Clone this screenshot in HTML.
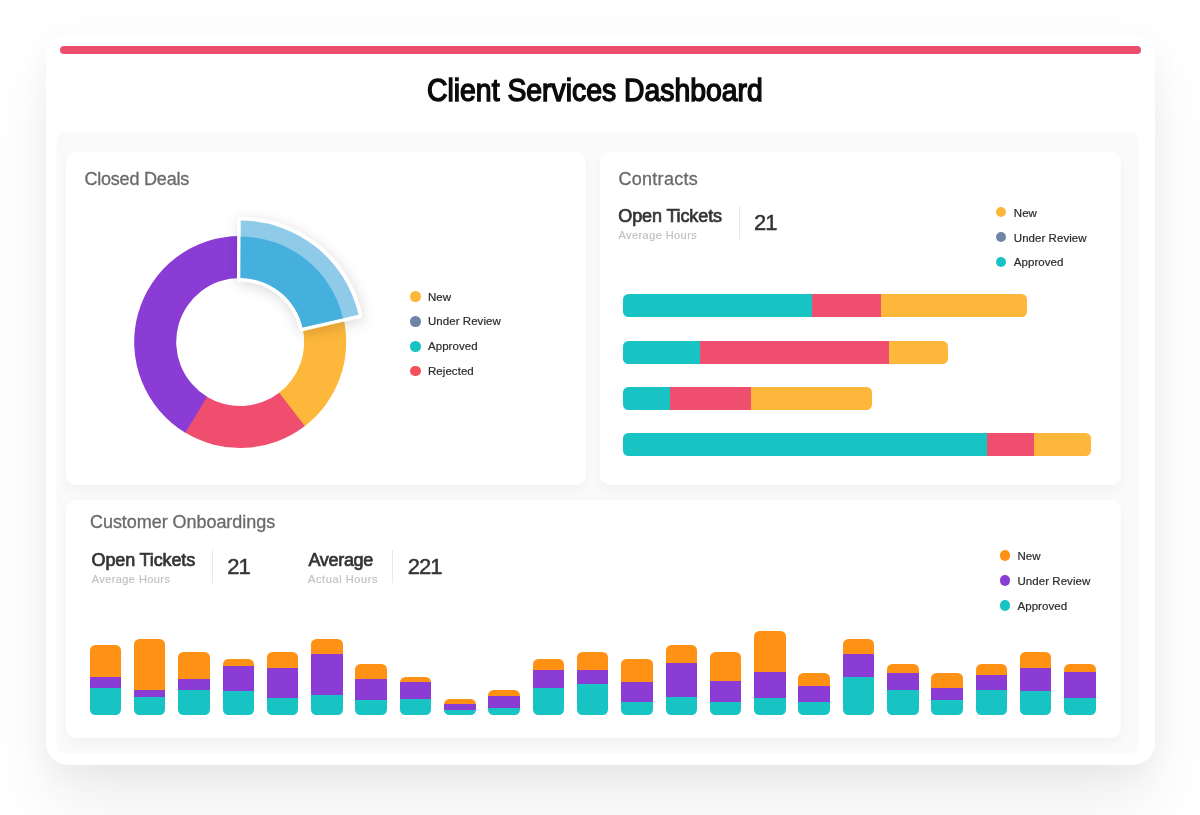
<!DOCTYPE html>
<html lang="en">
<head>
<meta charset="utf-8">
<title>Client Services Dashboard</title>
<style>
*{box-sizing:border-box;margin:0;padding:0}
html,body{width:1200px;height:815px;overflow:hidden;background:#fefefe}
body{position:relative;font-family:"Liberation Sans",Arial,sans-serif;color:#333}
.abs,.card,.hb,.vb,.dot,.lg,.t{position:absolute}
.outer{left:46px;top:34px;width:1108.5px;height:731px;background:#fff;border-radius:22px;
  box-shadow:0 40px 60px -6px rgba(0,0,0,.065),0 8px 30px rgba(0,0,0,.04)}
.topbar{left:59.7px;top:46px;width:1081.3px;height:8px;border-radius:4px;background:#EB4D6D}
.panel{left:57px;top:132.5px;width:1081px;height:620px;background:#fafafa;border-radius:8px;box-shadow:0 0 4px #fafafa}
.card{background:#fff;border-radius:10px;box-shadow:0 5px 12px rgba(0,0,0,.035)}
.t{white-space:nowrap;line-height:1}
h1.t{font-size:30.6px;font-weight:400;color:#0b0b0b;-webkit-text-stroke:1.4px #0b0b0b;transform-origin:0 0;transform:scaleX(.927)}
.h2{font-size:18px;color:#6a6a6a;-webkit-text-stroke:.3px #6a6a6a}
.k{font-size:18px;color:#343434;-webkit-text-stroke:.7px #343434}
.s{font-size:11px;color:#c0c0c0;letter-spacing:.42px;-webkit-text-stroke:.15px #c0c0c0}
.n{font-size:22px;color:#343434;-webkit-text-stroke:.45px #343434;letter-spacing:-1px}
.dv{position:absolute;width:1px;background:#e9e9e9}
.hb{display:flex;border-radius:5.5px;overflow:hidden}
.hb i{display:block;height:100%;flex:none}
.vb{width:31.6px;border-radius:5.5px;overflow:hidden}
.vb i{display:block;width:100%}
.dot{width:10.6px;height:10.6px;border-radius:50%}
.lg{font-size:11.5px;line-height:14px;color:#2b2b2b;white-space:nowrap;letter-spacing:.05px;-webkit-text-stroke:.2px #2b2b2b}
svg{position:absolute;left:0;top:0;overflow:visible}
</style>
</head>
<body>
<div class="abs outer"></div>
<div class="abs topbar"></div>
<h1 class="t" style="left:426.6px;top:75px">Client Services Dashboard</h1>
<div class="abs panel"></div>

<!-- Closed Deals -->
<section class="card" style="left:65.7px;top:152px;width:520.4px;height:333px"></section>
<div class="t h2" style="left:84.4px;top:169.5px;letter-spacing:-.2px">Closed Deals</div>
<svg width="1200" height="815" viewBox="0 0 1200 815">
<defs><filter id="sh" x="-30%" y="-30%" width="160%" height="160%"><feDropShadow dx="1.5" dy="3" stdDeviation="7" flood-color="#000" flood-opacity=".15"/></filter></defs>
<path d="M343.05 316.36A106.0 106.0 0 0 1 303.70 426.88L278.54 393.25A64.0 64.0 0 0 0 302.30 326.52Z" fill="#FDB73A"/>
<path d="M304.88 425.98A106.0 106.0 0 0 1 184.34 432.09L206.47 396.39A64.0 64.0 0 0 0 279.25 392.71Z" fill="#EF4E6E"/>
<path d="M185.29 432.67A106.0 106.0 0 0 1 240.20 236.00L240.20 278.00A64.0 64.0 0 0 0 207.05 396.74Z" fill="#8A3CD5"/>
<g filter="url(#sh)"><path d="M240.73 220.50A121.5 121.5 0 0 1 358.59 314.67L302.56 327.60A64.0 64.0 0 0 0 240.48 278.00Z" fill="#fff" stroke="#fff" stroke-width="7" stroke-linejoin="round"/></g>
<path d="M240.73 220.50A121.5 121.5 0 0 1 358.59 314.67L302.56 327.60A64.0 64.0 0 0 0 240.48 278.00Z" fill="#8FCBE9"/>
<path d="M240.66 236.50A105.5 105.5 0 0 1 343.00 318.27L302.56 327.60A64.0 64.0 0 0 0 240.48 278.00Z" fill="#45B0DE"/>
</svg>
<span class="dot" style="left:410.0px;top:291.4px;background:#FDB73A"></span><span class="lg" style="left:428px;top:289.5px">New</span>
<span class="dot" style="left:410.0px;top:316.3px;background:#6F84A6"></span><span class="lg" style="left:428px;top:314.4px">Under Review</span>
<span class="dot" style="left:410.0px;top:341.0px;background:#18C3C4"></span><span class="lg" style="left:428px;top:339.1px">Approved</span>
<span class="dot" style="left:410.0px;top:365.7px;background:#F4505C"></span><span class="lg" style="left:428px;top:363.8px">Rejected</span>

<!-- Contracts -->
<section class="card" style="left:600px;top:152px;width:520.6px;height:333px"></section>
<div class="t h2" style="left:618.4px;top:169.5px;letter-spacing:.3px">Contracts</div>
<div class="t k" style="left:618.3px;top:206.8px;letter-spacing:-.12px">Open Tickets</div>
<div class="t s" style="left:618.5px;top:230.3px">Average Hours</div>
<div class="dv" style="left:739px;top:205.5px;height:33.5px"></div>
<div class="t n" style="left:753.9px;top:211.9px">21</div>
<span class="dot" style="left:995.9px;top:206.9px;background:#FDB73A"></span><span class="lg" style="left:1013.8px;top:205.6px">New</span>
<span class="dot" style="left:995.9px;top:231.8px;background:#6F84A6"></span><span class="lg" style="left:1013.8px;top:230.5px">Under Review</span>
<span class="dot" style="left:995.9px;top:256.7px;background:#18C3C4"></span><span class="lg" style="left:1013.8px;top:255.4px">Approved</span>
<div class="hb" style="left:623.0px;top:294.2px;width:404.1px;height:23.1px"><i style="width:188.6px;background:#18C3C4"></i><i style="width:69.8px;background:#EF4E6E"></i><i style="width:145.7px;background:#FDB73A"></i></div>
<div class="hb" style="left:623.0px;top:340.5px;width:324.6px;height:23.1px"><i style="width:77.3px;background:#18C3C4"></i><i style="width:189.0px;background:#EF4E6E"></i><i style="width:58.3px;background:#FDB73A"></i></div>
<div class="hb" style="left:623.0px;top:386.9px;width:248.6px;height:23.1px"><i style="width:46.8px;background:#18C3C4"></i><i style="width:81.7px;background:#EF4E6E"></i><i style="width:120.1px;background:#FDB73A"></i></div>
<div class="hb" style="left:623.0px;top:433.3px;width:468.2px;height:23.1px"><i style="width:363.5px;background:#18C3C4"></i><i style="width:47.7px;background:#EF4E6E"></i><i style="width:57.0px;background:#FDB73A"></i></div>

<!-- Customer Onboardings -->
<section class="card" style="left:65.7px;top:500px;width:1054.9px;height:237.5px"></section>
<div class="t h2" style="left:90px;top:513.1px;letter-spacing:-.05px">Customer Onboardings</div>
<div class="t k" style="left:91.5px;top:550.5px;letter-spacing:-.12px">Open Tickets</div>
<div class="t s" style="left:91.7px;top:574.2px">Average Hours</div>
<div class="dv" style="left:211.5px;top:549px;height:33.5px"></div>
<div class="t n" style="left:227.2px;top:556.1px">21</div>
<div class="t k" style="left:308.4px;top:550.5px;letter-spacing:-.3px">Average</div>
<div class="t s" style="left:308px;top:574.2px;letter-spacing:.6px">Actual Hours</div>
<div class="dv" style="left:392.3px;top:549.5px;height:33.5px"></div>
<div class="t n" style="left:407.8px;top:556.1px">221</div>
<span class="dot" style="left:999.5px;top:550.2px;background:#FF9215"></span><span class="lg" style="left:1017.5px;top:549.0px">New</span>
<span class="dot" style="left:999.5px;top:575.1px;background:#8A3CD5"></span><span class="lg" style="left:1017.5px;top:573.9px">Under Review</span>
<span class="dot" style="left:999.5px;top:600.0px;background:#18C3C4"></span><span class="lg" style="left:1017.5px;top:598.8px">Approved</span>
<div class="vb" style="left:89.6px;top:644.8px;height:69.9px"><i style="height:32.4px;background:#FF9215"></i><i style="height:10.8px;background:#8A3CD5"></i><i style="height:26.7px;background:#18C3C4"></i></div>
<div class="vb" style="left:133.9px;top:639.2px;height:75.5px"><i style="height:50.8px;background:#FF9215"></i><i style="height:6.7px;background:#8A3CD5"></i><i style="height:18.0px;background:#18C3C4"></i></div>
<div class="vb" style="left:178.2px;top:651.8px;height:62.9px"><i style="height:27.4px;background:#FF9215"></i><i style="height:10.5px;background:#8A3CD5"></i><i style="height:25.0px;background:#18C3C4"></i></div>
<div class="vb" style="left:222.5px;top:659.1px;height:55.6px"><i style="height:7.0px;background:#FF9215"></i><i style="height:24.5px;background:#8A3CD5"></i><i style="height:24.1px;background:#18C3C4"></i></div>
<div class="vb" style="left:266.8px;top:651.8px;height:62.9px"><i style="height:16.3px;background:#FF9215"></i><i style="height:30.4px;background:#8A3CD5"></i><i style="height:16.2px;background:#18C3C4"></i></div>
<div class="vb" style="left:311.1px;top:639.2px;height:75.5px"><i style="height:14.9px;background:#FF9215"></i><i style="height:40.9px;background:#8A3CD5"></i><i style="height:19.7px;background:#18C3C4"></i></div>
<div class="vb" style="left:355.4px;top:664.3px;height:50.4px"><i style="height:14.6px;background:#FF9215"></i><i style="height:21.3px;background:#8A3CD5"></i><i style="height:14.5px;background:#18C3C4"></i></div>
<div class="vb" style="left:399.7px;top:677.2px;height:37.5px"><i style="height:5.2px;background:#FF9215"></i><i style="height:16.4px;background:#8A3CD5"></i><i style="height:16.0px;background:#18C3C4"></i></div>
<div class="vb" style="left:444.0px;top:698.5px;height:16.2px"><i style="height:5.5px;background:#FF9215"></i><i style="height:5.5px;background:#8A3CD5"></i><i style="height:5.2px;background:#18C3C4"></i></div>
<div class="vb" style="left:488.3px;top:689.7px;height:25.0px"><i style="height:6.1px;background:#FF9215"></i><i style="height:12.0px;background:#8A3CD5"></i><i style="height:6.9px;background:#18C3C4"></i></div>
<div class="vb" style="left:532.6px;top:659.1px;height:55.6px"><i style="height:10.8px;background:#FF9215"></i><i style="height:17.8px;background:#8A3CD5"></i><i style="height:27.0px;background:#18C3C4"></i></div>
<div class="vb" style="left:576.9px;top:651.8px;height:62.9px"><i style="height:18.1px;background:#FF9215"></i><i style="height:14.3px;background:#8A3CD5"></i><i style="height:30.5px;background:#18C3C4"></i></div>
<div class="vb" style="left:621.2px;top:659.1px;height:55.6px"><i style="height:23.3px;background:#FF9215"></i><i style="height:19.6px;background:#8A3CD5"></i><i style="height:12.7px;background:#18C3C4"></i></div>
<div class="vb" style="left:665.5px;top:644.8px;height:69.9px"><i style="height:18.1px;background:#FF9215"></i><i style="height:33.8px;background:#8A3CD5"></i><i style="height:18.0px;background:#18C3C4"></i></div>
<div class="vb" style="left:709.8px;top:651.8px;height:62.9px"><i style="height:28.9px;background:#FF9215"></i><i style="height:21.3px;background:#8A3CD5"></i><i style="height:12.7px;background:#18C3C4"></i></div>
<div class="vb" style="left:754.1px;top:630.5px;height:84.2px"><i style="height:41.4px;background:#FF9215"></i><i style="height:26.6px;background:#8A3CD5"></i><i style="height:16.2px;background:#18C3C4"></i></div>
<div class="vb" style="left:798.4px;top:673.4px;height:41.3px"><i style="height:12.5px;background:#FF9215"></i><i style="height:16.1px;background:#8A3CD5"></i><i style="height:12.7px;background:#18C3C4"></i></div>
<div class="vb" style="left:842.7px;top:639.2px;height:75.5px"><i style="height:14.6px;background:#FF9215"></i><i style="height:23.1px;background:#8A3CD5"></i><i style="height:37.8px;background:#18C3C4"></i></div>
<div class="vb" style="left:887.0px;top:664.3px;height:50.4px"><i style="height:9.1px;background:#FF9215"></i><i style="height:16.3px;background:#8A3CD5"></i><i style="height:25.0px;background:#18C3C4"></i></div>
<div class="vb" style="left:931.3px;top:673.4px;height:41.3px"><i style="height:14.3px;background:#FF9215"></i><i style="height:12.8px;background:#8A3CD5"></i><i style="height:14.2px;background:#18C3C4"></i></div>
<div class="vb" style="left:975.6px;top:664.3px;height:50.4px"><i style="height:10.8px;background:#FF9215"></i><i style="height:14.6px;background:#8A3CD5"></i><i style="height:25.0px;background:#18C3C4"></i></div>
<div class="vb" style="left:1019.9px;top:651.8px;height:62.9px"><i style="height:16.3px;background:#FF9215"></i><i style="height:23.4px;background:#8A3CD5"></i><i style="height:23.2px;background:#18C3C4"></i></div>
<div class="vb" style="left:1064.2px;top:664.3px;height:50.4px"><i style="height:7.6px;background:#FF9215"></i><i style="height:26.6px;background:#8A3CD5"></i><i style="height:16.2px;background:#18C3C4"></i></div>
</body>
</html>
